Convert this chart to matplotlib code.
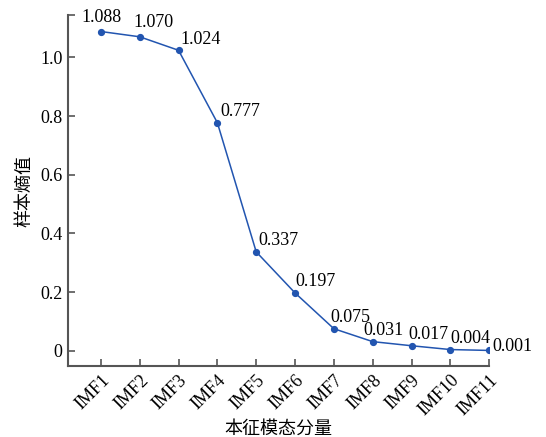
import matplotlib
matplotlib.use("Agg")
import matplotlib.pyplot as plt

# data
imfs = ["IMF1", "IMF2", "IMF3", "IMF4", "IMF5", "IMF6",
        "IMF7", "IMF8", "IMF9", "IMF10", "IMF11"]
entropy = [1.088, 1.070, 1.024, 0.777, 0.337, 0.197,
           0.075, 0.031, 0.017, 0.004, 0.001]

# label offsets in pixels (dx, dy)
offs = [(-19, 6), (-6, 6), (2, 2), (3, 3), (2, 3), (0, 3),
        (-4, 3), (-9, 3), (-3, 3), (0, 3), (3, -5)]

serif = "Liberation Serif"
cjk = ["Noto Sans CJK SC", "DejaVu Sans"]

fig = plt.figure(figsize=(5.46, 4.37), dpi=100)
ax = fig.add_axes([0.125, 0.1625, 0.771, 0.803])

x = list(range(1, len(imfs) + 1))
ax.plot(x, entropy, color="#2255b0", lw=1.1, marker="o", ms=4.2)

for xi, v, (dx, dy) in zip(x, entropy, offs):
    ax.annotate("%.3f" % v, (xi, v), xytext=(dx, dy), textcoords="offset pixels",
                ha="left", va="bottom", fontsize=13, family=serif)

ax.set_xlim(0.16, 11)
ax.set_ylim(-0.052, 1.144)
ax.set_xticks(x)
ax.set_xticklabels(imfs, rotation=45, ha="right", rotation_mode="anchor",
                   family=serif, fontsize=13)
ax.set_yticks([0, 0.2, 0.4, 0.6, 0.8, 1.0, 1.144])
ax.set_yticklabels(["0", "0.2", "0.4", "0.6", "0.8", "1.0", ""],
                   family=serif, fontsize=13)
ax.tick_params(direction="in", length=5, width=1.2, color="#555555", pad=4)

for s in ["top", "right"]:
    ax.spines[s].set_visible(False)
for s in ["left", "bottom"]:
    ax.spines[s].set_linewidth(1.5)
    ax.spines[s].set_color("#555555")

ax.set_xlabel("本征模态分量", family=cjk, fontsize=13)
ax.xaxis.set_label_coords(0.5, -0.152)
ax.set_ylabel("样本熵值", family=cjk, fontsize=13)
ax.yaxis.set_label_coords(-0.083, 0.5)

fig.savefig("out.png", dpi=100)
